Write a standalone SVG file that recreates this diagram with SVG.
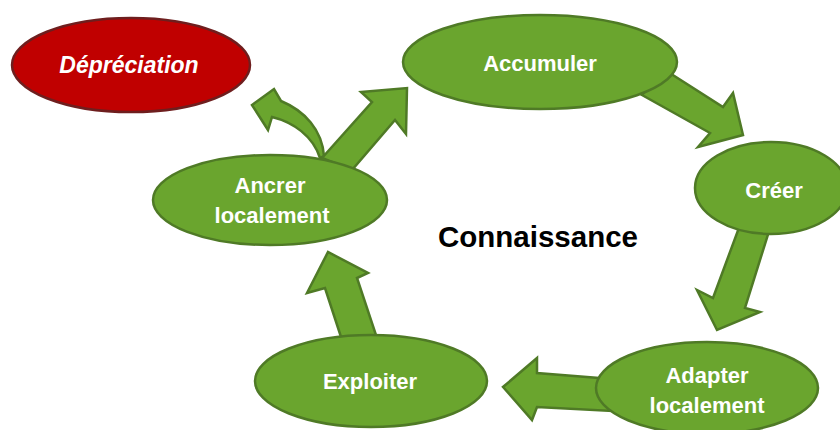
<svg xmlns="http://www.w3.org/2000/svg" width="840" height="430" viewBox="0 0 840 430">
<style>
.node{fill:#6aa52e;stroke:#4f7a26;stroke-width:2.5}
.red{fill:#c00000;stroke:#6e1e1e;stroke-width:2.5}
.arr{fill:#6aa52e;stroke:#4f7a26;stroke-width:2.5;stroke-linejoin:miter}
.t{font-family:"Liberation Sans",Arial,sans-serif;font-weight:bold;fill:#ffffff;text-anchor:middle;font-size:22px}
.c{font-family:"Liberation Sans",Arial,sans-serif;font-weight:bold;fill:#000000;text-anchor:middle}
</style>
<rect width="840" height="430" fill="#ffffff"/>
<g id="connectors">
<path class="arr" d="M324,156 C322,130 305,111 281,101 L274,89 L252,105 L268,130 L272,117 C293,122 313,136 320,158 Z"/>
<path class="arr" d="M322,158 L372,102 L361,92 L407,88 L406,134 L395,120 L352,170 Z"/>
<path class="arr" d="M665,70 L723,107 L733,93 L743,135 L698,147 L710,133 L642,95 Z"/>
<path class="arr" d="M740,225 L770,228 L745,308 L760,312 L717,330 L697,290 L713,298 Z"/>
<path class="arr" d="M612,379 L537,373 L537,358 L503,387 L532,420 L537,407 L612,411 Z"/>
<path class="arr" d="M342,340 L325,288 L307,293 L328,252 L368,273 L357,278 L377,338 Z"/>
</g>
<g id="depreciation">
<ellipse class="red" cx="131" cy="65" rx="119" ry="47"/>
<text class="t" x="129" y="73" style="font-size:23px" font-style="italic">Dépréciation</text>
</g>
<g id="accumuler">
<ellipse class="node" cx="540" cy="62" rx="137" ry="47"/>
<text class="t" x="540" y="71">Accumuler</text>
</g>
<g id="creer">
<ellipse class="node" cx="771" cy="188" rx="76" ry="46"/>
<text class="t" x="774" y="198">Créer</text>
</g>
<g id="adapter">
<ellipse class="node" cx="707" cy="388" rx="111" ry="46"/>
<text class="t" x="707" y="383">Adapter</text>
<text class="t" x="707" y="413">localement</text>
</g>
<g id="exploiter">
<ellipse class="node" cx="371" cy="381" rx="116" ry="46"/>
<text class="t" x="370" y="389">Exploiter</text>
</g>
<g id="ancrer">
<ellipse class="node" cx="270" cy="200" rx="117" ry="45"/>
<text class="t" x="270" y="193">Ancrer</text>
<text class="t" x="272" y="223">localement</text>
</g>
<g id="label">
<text class="c" x="538" y="247" font-size="29.5">Connaissance</text>
</g>
</svg>
